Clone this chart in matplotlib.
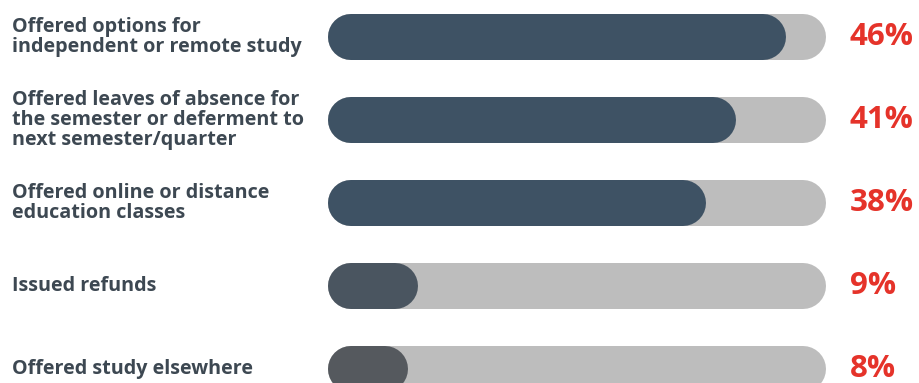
import matplotlib.pyplot as plt

labels = [
    "Offered options for\nindependent or remote study",
    "Offered leaves of absence for\nthe semester or deferment to\nnext semester/quarter",
    "Offered online or distance\neducation classes",
    "Issued refunds",
    "Offered study elsewhere",
]
values = [46, 41, 38, 9, 8]
fill_colors = ["#3e5264", "#3e5264", "#3e5264", "#4a5560", "#55595e"]
track_max = 50

W, H, DPI = 920, 383, 100
fig = plt.figure(figsize=(W / DPI, H / DPI), dpi=DPI)
fig.patch.set_facecolor("white")

# axes covers the track area horizontally, full height vertically
left_px, right_px = 328, 826
ax = fig.add_axes([left_px / W, 0, (right_px - left_px) / W, 1])
ax.set_xlim(0, track_max)
first_px, step_px = 37, 83
ax.set_ylim((H - first_px) / step_px, -first_px / step_px)
ax.axis("off")

bar_px = 46
lw = bar_px * 72 / DPI
r = (bar_px / 2) * track_max / (right_px - left_px)  # cap radius in data units

for i, (lab, v, c) in enumerate(zip(labels, values, fill_colors)):
    ax.plot([r, track_max - r], [i, i], color="#bdbdbd", lw=lw,
            solid_capstyle="round", zorder=1)
    ax.plot([r, v - r], [i, i], color=c, lw=lw,
            solid_capstyle="round", zorder=2)
    ax.annotate(f"{v}%", xy=(track_max, i), xytext=(24, 0),
                textcoords="offset pixels", va="center", ha="left",
                color="#e5332a", fontsize=22.5, fontweight="bold",
                family="Open Sans", annotation_clip=False)
    ax.annotate(lab, xy=(0, i), xycoords=("figure pixels", "data"),
                xytext=(12, 0), textcoords="offset pixels",
                va="center", ha="left", color="#3d4852", fontsize=14.2,
                fontweight="bold", family="Open Sans",
                linespacing=1.0, annotation_clip=False)

fig.savefig("out.png", dpi=DPI)
